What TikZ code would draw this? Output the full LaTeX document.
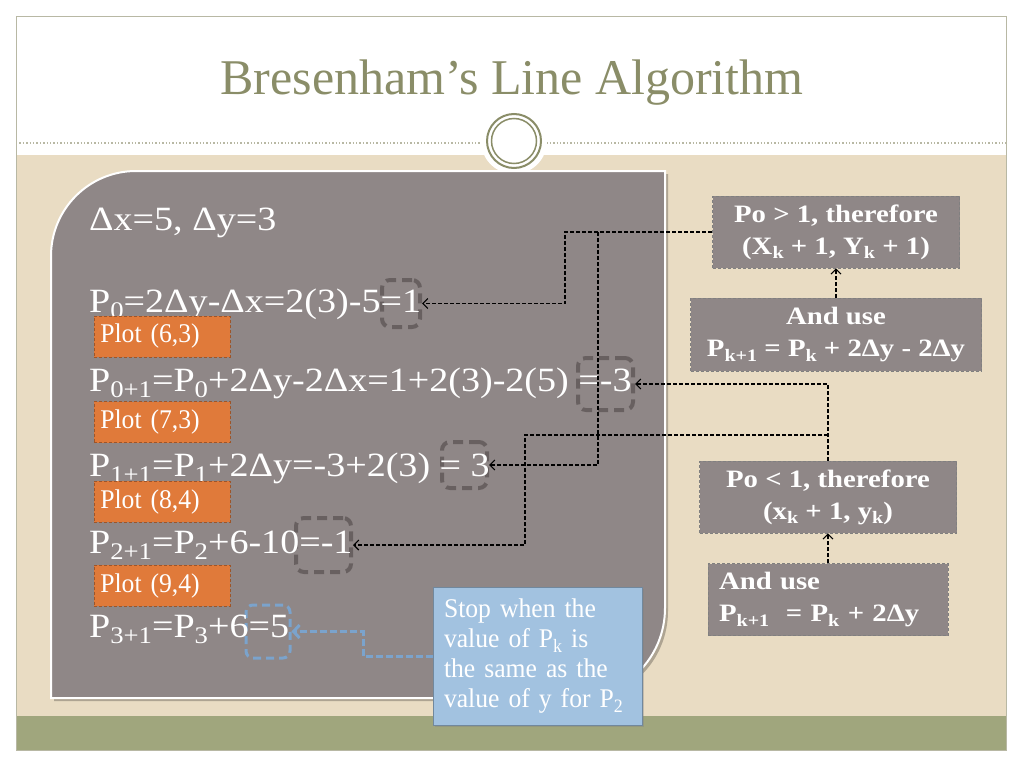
\documentclass[tikz,border=0pt]{standalone}
\usepackage{fontspec}
\setmainfont{Liberation Serif}
\newfontfamily\eqfont[FakeStretch=1.12]{Liberation Serif}
\newfontfamily\condfont[FakeStretch=0.95]{Liberation Serif}
\newfontfamily\boxfont[FakeStretch=1.15]{Liberation Serif}
\usepackage{graphicx}
\usetikzlibrary{arrows.meta,shadows}
\definecolor{beige}{HTML}{E9DCC3}
\definecolor{band}{HTML}{A0A67D}
\definecolor{olivet}{HTML}{8A8D68}
\definecolor{panelgray}{HTML}{8F8787}
\definecolor{numboxc}{HTML}{625A5A}
\definecolor{orangeplot}{HTML}{E07A3A}
\definecolor{calloutblue}{HTML}{A2C2E0}
\definecolor{bluearrow}{HTML}{7BA3CC}
\definecolor{framecol}{HTML}{B8B8A4}
\newcommand\lo[1]{\raisebox{-0.4ex}{\scalebox{0.7}{#1}}}
\begin{document}
\begin{tikzpicture}[x=1pt,y=-1pt,
 eq/.style={anchor=base west, text=white, font=\eqfont\fontsize{34}{40}\selectfont, inner sep=0},
 plotbox/.style={fill=orangeplot, draw=orangeplot!70!black, densely dashed, line width=0.6,
   text=white, font=\condfont\fontsize{27}{30}\selectfont, minimum width=136, minimum height=41,
   text width=124, align=left, inner xsep=6, inner ysep=0, anchor=west},
 numbox/.style={draw=numboxc, draw opacity=0.85, line width=4, dash pattern=on 10pt off 6pt,
   rounded corners=8pt, inner sep=0},
 rbox/.style={fill=panelgray, draw=black!50, densely dashed, line width=0.6, text=white,
   font=\boxfont\bfseries\fontsize{25}{32}\selectfont, inner sep=0},
 conn/.style={draw=black, line width=1.1, dash pattern=on 4pt off 2pt,
   -{Straight Barb[length=5pt,width=10pt]}},
 bconn/.style={draw=bluearrow, line width=3, dash pattern=on 7pt off 3pt,
   -{Straight Barb[length=6pt,width=13pt]}},
 callout/.style={fill=calloutblue, draw=calloutblue!70!black, line width=0.6, text=white,
   font=\condfont\fontsize{27}{30}\selectfont, minimum width=209, minimum height=138,
   text width=187, inner xsep=11, align=left,
   drop shadow={opacity=0.35, shadow xshift=2pt, shadow yshift=-2pt}},
]
% background
\fill[white] (0,0) rectangle (1024,768);
\useasboundingbox (0,0) rectangle (1024,768);
\fill[beige] (16,155) rectangle (1006,716);
\fill[band] (16,716) rectangle (1006,750);
\draw[framecol, line width=1] (16,17) rectangle (1006,750);
\draw[framecol, dotted, line width=1.4] (16,143) -- (1006,143);
% ornament
\fill[white] (514,141) circle (33);
\draw[olivet, line width=2] (514,141) circle (27);
\draw[olivet, line width=1.5] (514,141) circle (22.5);
% title
\node[anchor=base, text=olivet, font=\fontsize{50}{56}\selectfont, inner sep=0] (title) at (512,94) {Bresenham’s Line Algorithm};
% panel shadow and panel
\begin{scope}[shift={(3,3)}]
\fill[black, opacity=0.25] (51,698) -- (51,256) .. controls (51,209) and (89,171) .. (136,171) -- (665,171) -- (665,608) .. controls (665,658) and (625,698) .. (575,698) -- cycle;
\end{scope}
\draw[white, line width=2, fill=panelgray] (51,698) -- (51,256) .. controls (51,209) and (89,171) .. (136,171) -- (665,171) -- (665,608) .. controls (665,658) and (625,698) .. (575,698) -- cycle;
% number boxes
\node[numbox, minimum width=38, minimum height=47] (b1) at (401,303.5) {};
\node[numbox, minimum width=55, minimum height=52] (b2) at (605.5,384) {};
\node[numbox, minimum width=45, minimum height=46] (b3) at (464.5,465) {};
\node[numbox, minimum width=55, minimum height=54] (b4) at (323.5,545) {};
\node[draw=bluearrow, line width=3, dash pattern=on 8pt off 5pt, rounded corners=7pt, inner sep=0,
  minimum width=44, minimum height=53] (b5) at (268,631.5) {};
% equations
\node[eq] (l0) at (89,230) {Δx=5, Δy=3};
\node[eq] (l1) at (89,312) {P\lo{0}=2Δy-Δx=2(3)-5=1};
\node[eq] (l2) at (89,391) {P\lo{0+1}=P\lo{0}+2Δy-2Δx=1+2(3)-2(5) =-3};
\node[eq] (l3) at (89,476) {P\lo{1+1}=P\lo{1}+2Δy=-3+2(3) = 3};
\node[eq] (l4) at (89,553) {P\lo{2+1}=P\lo{2}+6-10=-1};
\node[eq] (l5) at (89,637) {P\lo{3+1}=P\lo{3}+6=5};
% plot boxes
\node[plotbox] (p1) at (94,336.5) {Plot (6,3)};
\node[plotbox] (p2) at (94,422) {Plot (7,3)};
\node[plotbox] (p3) at (94,501.5) {Plot (8,4)};
\node[plotbox] (p4) at (94,585.5) {Plot (9,4)};
% callout
\node[callout] (S) at (537.5,656) {Stop when the\\value of P\lo{k} is\\the same as the\\value of y for P\lo{2}};
% right boxes
\node[rbox, minimum width=247, minimum height=72, align=center] (A) at (836,232)
  {Po > 1, therefore\\(X\lo{k} + 1, Y\lo{k} + 1)};
\node[rbox, minimum width=291, minimum height=73, align=center] (B) at (836,334.5)
  {And use\\P\lo{k+1} = P\lo{k} + 2Δy - 2Δy};
\node[rbox, minimum width=257, minimum height=72, align=center] (C) at (828,497)
  {Po < 1, therefore\\(x\lo{k} + 1, y\lo{k})};
\node[rbox, minimum width=240, minimum height=72, text width=218, inner xsep=11, align=left] (D) at (828,599.5)
  {And use\\P\lo{k+1}\ \ = P\lo{k} + 2Δy};
% connectors
\coordinate (j1) at (565,232);
\coordinate (j2) at (598,232);
\coordinate (j3) at (828,435);
\coordinate (j4) at (525,435);
\coordinate (j5) at (363,656);
\draw[conn] (A.west) -- (j1) |- (b1.east);
\draw[conn] (j2) |- (b3.east);
\draw[conn] (C.north) |- (b2.east);
\draw[conn] (j3) -- (j4) |- (b4.east);
\draw[conn] (B.north) -- (A.south);
\draw[conn] (D.north) -- (C.south);
\draw[bconn] (S.west) -- (j5) |- (b5.east);
\end{tikzpicture}
\end{document}
